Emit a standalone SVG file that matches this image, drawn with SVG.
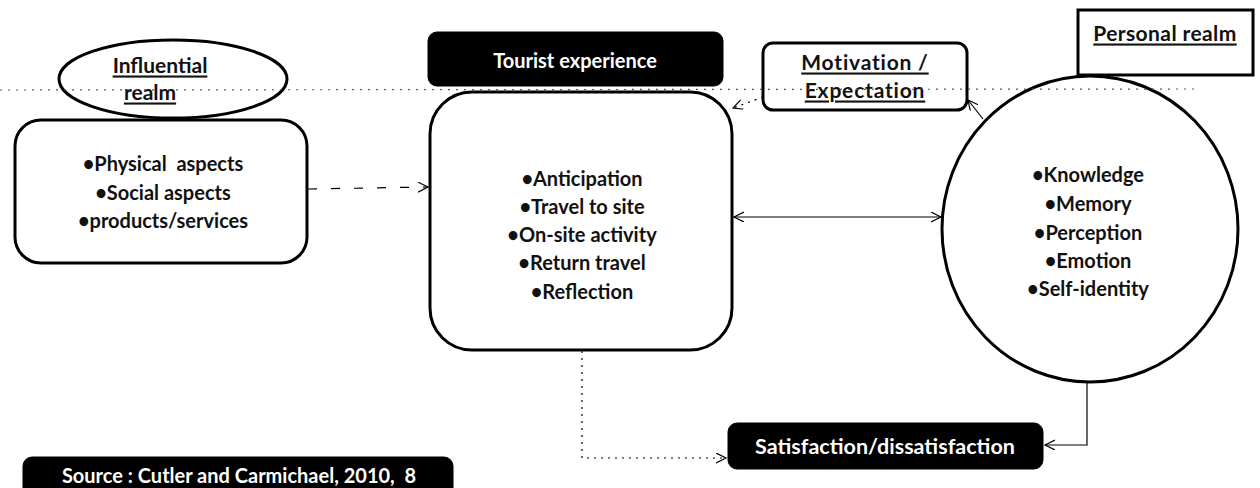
<svg xmlns="http://www.w3.org/2000/svg" width="1260" height="488" viewBox="0 0 1260 488">
  <style>
    .t { font-family: Lato, "Open Sans", "Liberation Sans", sans-serif; font-weight: 700; fill: #111; text-anchor: middle; dominant-baseline: central; }
    .w { fill: #fff; }
    .u { text-decoration: underline; }
    .pre { white-space: pre; }
    .box { fill: #fff; stroke: #000; stroke-width: 3; }
    .dark { fill: #000; stroke: #000; stroke-width: 1; }
    .conn { fill: none; stroke: #000; stroke-width: 1.2; }
    .dash { stroke-dasharray: 9 14; }
    .dot { stroke-dasharray: 2 5; }
  </style>
  <defs>
    <marker id="arr" markerWidth="12" markerHeight="12" refX="10" refY="5" orient="auto-start-reverse" markerUnits="userSpaceOnUse">
      <path d="M0,0 L10,5 L0,10" fill="none" stroke="#000" stroke-width="1.2"/>
    </marker>
  </defs>
  <rect width="1260" height="488" fill="#fff"/>

  <g id="influential-realm">
    <ellipse cx="173" cy="79" rx="114" ry="39" class="box"/>
    <text x="160" y="64" class="t u" font-size="21">Influential</text>
    <text x="150" y="91" class="t u" font-size="21">realm</text>
  </g>

  <g id="influential-factors">
    <rect x="15" y="120" width="292" height="143" rx="26" class="box"/>
    <text x="163" y="163" class="t pre" font-size="20" font-weight="600">•Physical  aspects</text>
    <text x="163" y="192" class="t" font-size="20" font-weight="600">•Social aspects</text>
    <text x="163" y="220" class="t" font-size="20" font-weight="600">•products/services</text>
  </g>

  <g id="tourist-experience-title">
    <rect x="428" y="32" width="295" height="54" rx="9" class="dark"/>
    <text x="575" y="60" class="t w" font-size="20">Tourist experience</text>
  </g>

  <g id="tourist-experience-stages">
    <rect x="430" y="92" width="302" height="258" rx="42" class="box"/>
    <text x="582" y="178" class="t" font-size="20">•Anticipation</text>
    <text x="582" y="206" class="t" font-size="20">•Travel to site</text>
    <text x="582" y="234" class="t" font-size="20">•On-site activity</text>
    <text x="582" y="262" class="t" font-size="20">•Return travel</text>
    <text x="582" y="291" class="t" font-size="20">•Reflection</text>
  </g>

  <g id="motivation-expectation">
    <rect x="763" y="43" width="204" height="67" rx="10" class="box"/>
    <text x="865" y="61" class="t u" font-size="21" letter-spacing="0.8">Motivation /</text>
    <text x="865" y="89" class="t u" font-size="21" letter-spacing="0.8">Expectation</text>
  </g>

  <g id="personal-realm-label">
    <rect x="1078" y="10" width="175" height="65" class="box"/>
    <text x="1165" y="32" class="t u" font-size="21" letter-spacing="0.4">Personal realm</text>
  </g>

  <g id="personal-realm">
    <ellipse cx="1090" cy="229" rx="148" ry="153" class="box"/>
    <text x="1088" y="174" class="t" font-size="20">•Knowledge</text>
    <text x="1088" y="203" class="t" font-size="20">•Memory</text>
    <text x="1088" y="232" class="t" font-size="20">•Perception</text>
    <text x="1088" y="260" class="t" font-size="20">•Emotion</text>
    <text x="1088" y="288" class="t" font-size="20">•Self-identity</text>
  </g>

  <g id="satisfaction">
    <rect x="728" y="423" width="315" height="46" rx="9" class="dark"/>
    <text x="885" y="446" class="t w" font-size="21.5">Satisfaction/dissatisfaction</text>
  </g>

  <g id="source">
    <rect x="23" y="457" width="430" height="40" rx="9" class="dark"/>
    <text x="239" y="475" class="t w pre" font-size="20">Source : Cutler and Carmichael, 2010,  8</text>
  </g>

  <g id="connectors">
    <line x1="308" y1="189" x2="428" y2="187" class="conn dash" marker-end="url(#arr)"/>
    <line x1="734" y1="217" x2="941" y2="217" class="conn" marker-start="url(#arr)" marker-end="url(#arr)"/>
    <line x1="983" y1="119" x2="968" y2="100" class="conn" marker-end="url(#arr)"/>
    <line x1="763" y1="97" x2="733" y2="108" class="conn dot" marker-end="url(#arr)"/>
    <path d="M582,351 V458 H726" class="conn dot" marker-end="url(#arr)"/>
    <path d="M1087,382 V445 H1045" class="conn" marker-end="url(#arr)"/>
  </g>

  <line id="scan-line" x1="0" y1="90" x2="1200" y2="89" stroke="#555" stroke-width="1.2" stroke-dasharray="2 6"/>
</svg>
